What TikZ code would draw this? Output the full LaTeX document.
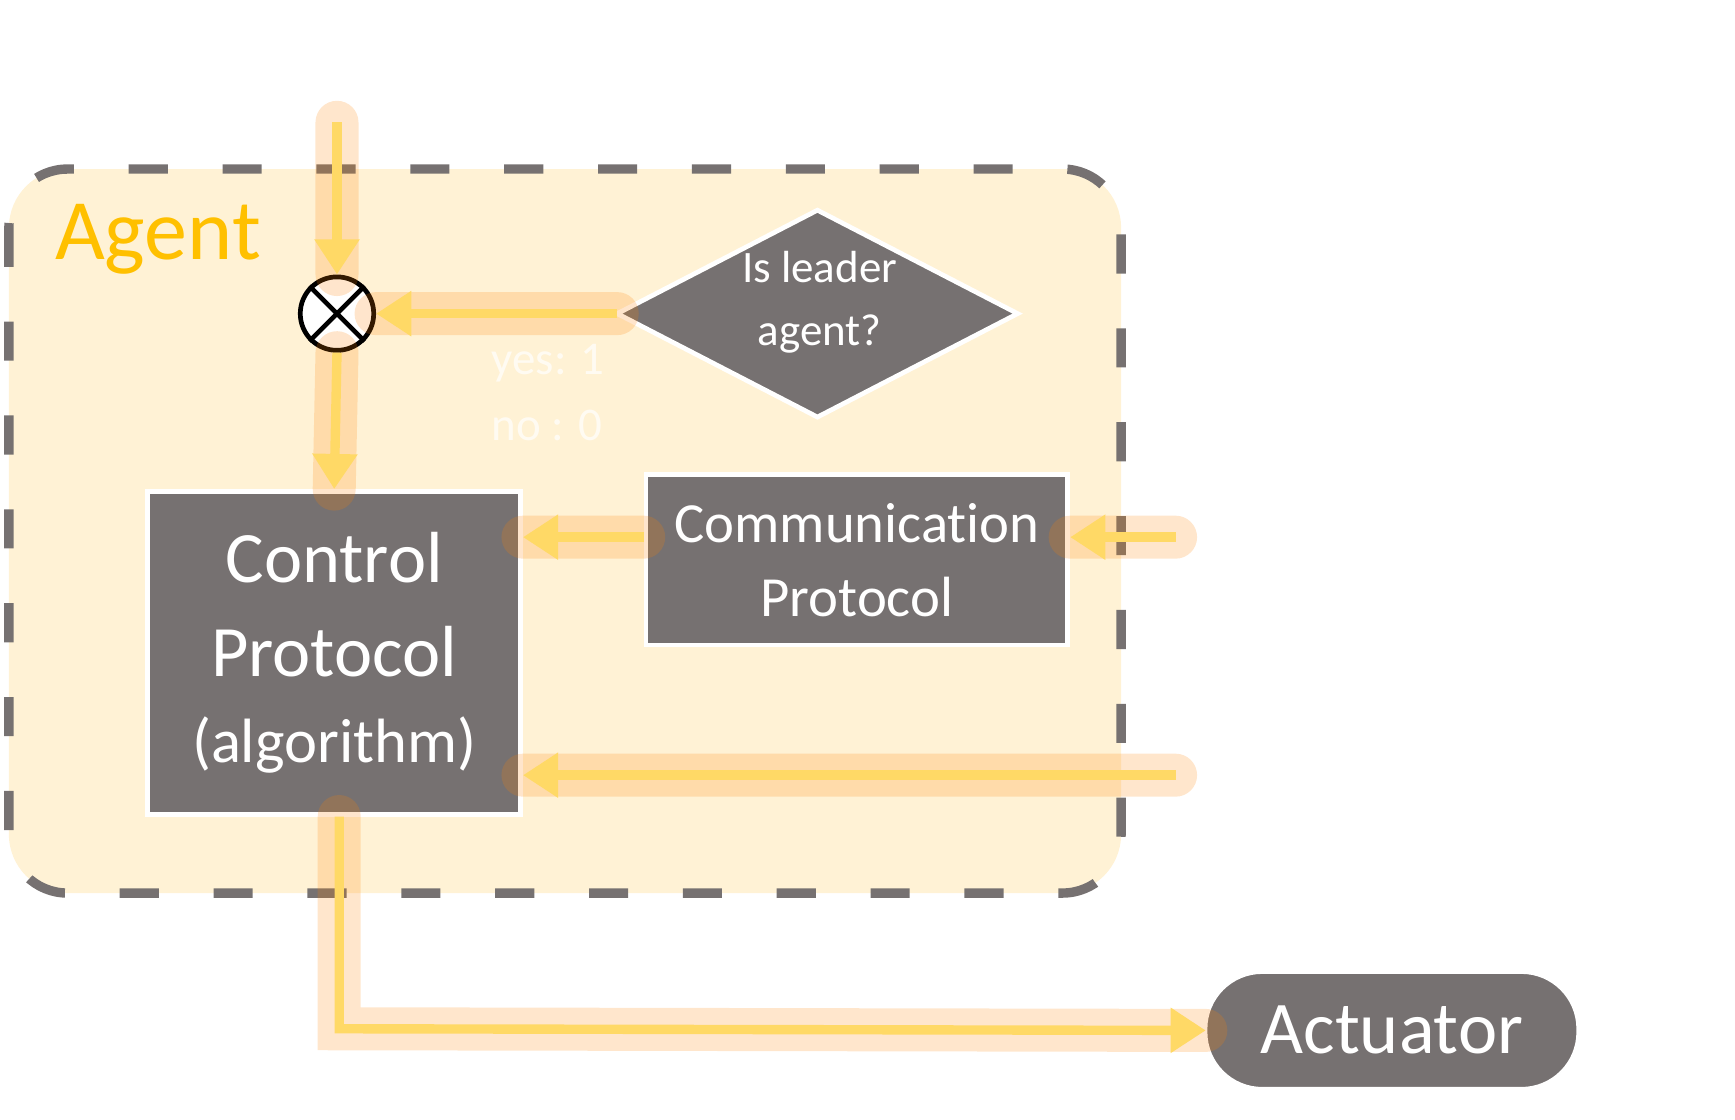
\documentclass[tikz,border=0pt]{standalone}
\usepackage{fontspec}
\setmainfont[Ligatures={NoCommon}]{Carlito}
\usetikzlibrary{shapes.geometric,arrows.meta}
\definecolor{boxg}{HTML}{767171}
\definecolor{ylw}{HTML}{FFD966}
\definecolor{org}{HTML}{FFC000}
\definecolor{bg}{HTML}{FFF2D5}
\tikzset{
 box/.style={draw=white,line width=1.2pt,fill=boxg,text=white,align=center},
 arr/.style={draw=ylw,line width=2.4pt,-{Triangle[length=9pt,width=11pt]}},
 glow/.style={draw=orange,line width=11pt,opacity=0.2,line cap=round}
}
\begin{document}
\begin{tikzpicture}[x=0.01cm,y=-0.01cm]
\useasboundingbox (0,0) rectangle (1560,1007);
\draw[fill=bg,draw=boxg,line width=2.4pt,dash pattern=on 10pt off 14pt,rounded corners=15pt] (8,152) rectangle (1008,803);
\node[text=org,font=\fontsize{22}{24}\selectfont] (ag) at (142,215) {Agent};
\node[text=white,font=\fontsize{18}{20}\selectfont] (ro) at (310,80) {ro};
\path[draw=white,fill=boxg,line width=1.2pt] (555,282)--(735,189)--(915,282)--(735,375)--cycle;
\node[text=white,align=center,font=\fontsize{11.5}{16}\selectfont] (dt) at (737,272) {Is leader\\agent?};
\coordinate (dl) at (555,282);
\node[text=white,opacity=0.7,align=left,font=\fontsize{12}{17}\selectfont] (yn) at (493,353) {yes: 1\\no : 0};
\node[box,minimum width=3.35cm,minimum height=2.9cm,inner sep=0pt,font=\fontsize{18.5}{24}\selectfont] (cp) at (300.5,587) {Control\\Protocol\\[-2pt]{\fontsize{16}{20}\selectfont(algorithm)}};
\node[box,minimum width=3.79cm,minimum height=1.53cm,inner sep=0pt,font=\fontsize{14.5}{19}\selectfont] (cm) at (770.5,503.5) {Communication\\Protocol};
\node[draw=white,fill=boxg,text=white,rounded corners=0.5cm,minimum width=3.33cm,minimum height=1.03cm,font=\fontsize{19}{22}\selectfont] (act) at (1251.5,926.5) {Actuator};
\node[circle,draw=black,fill=white,line width=1.2pt,minimum size=0.66cm,inner sep=0pt] (x) at (303,282) {};
\draw[line width=1.2pt] (x.45)--(x.225) (x.135)--(x.315);
\coordinate (in1) at (303,110);
\coordinate (in2) at (1057,483);
\coordinate (in3) at (1057,697);
\coordinate (b1) at (305,925);
\draw[glow] (in1)--(x.north) (dl)--(x.east) (x.south)--(cp.north) (in2-|cm.west)--(in2-|cp.east) (in2)--(in2-|cm.east) (in3)--(in3-|cp.east) (cp.south-|b1)--(b1)--(act.west);
\draw[arr] (in1)--(x.north);
\draw[arr] (dl)--(x.east);
\draw[arr] (x.south)--(cp.north);
\draw[arr] (in2-|cm.west)--(in2-|cp.east);
\draw[arr] (in2)--(in2-|cm.east);
\draw[arr] (in3)--(in3-|cp.east);
\draw[arr] (cp.south-|b1)--(b1)--(act.west);
\end{tikzpicture}
\end{document}
